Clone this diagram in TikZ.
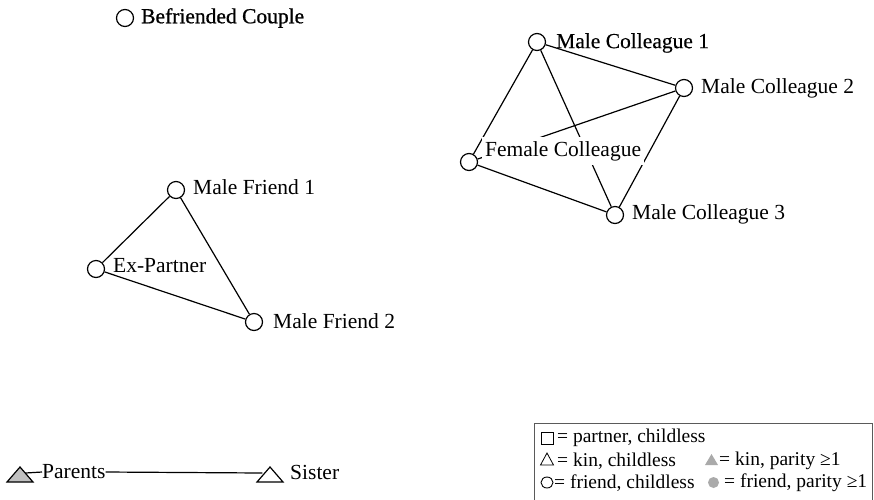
\documentclass[tikz,border=0pt]{standalone}
\usepackage{fontspec}
\setmainfont{Liberation Serif}
\newfontfamily\heavyserif[FakeBold=0.8]{Liberation Serif}
\newfontfamily\semiheavyserif[FakeBold=0.4]{Liberation Serif}
\usetikzlibrary{shapes.geometric}
\definecolor{symgrey}{RGB}{170,170,170}
\definecolor{trigrey}{RGB}{192,192,192}
\definecolor{framegrey}{RGB}{90,90,90}
\tikzset{
  person/.style={circle, draw, line width=1.2pt, fill=white, inner sep=0pt, minimum size=17pt},
  tie/.style={line width=1.2pt},
  lbl/.style={anchor=west, inner sep=0pt, font=\fontsize{21.5}{24}\selectfont},
  keytext/.style={anchor=west, inner sep=0pt, font=\fontsize{19.5}{22}\selectfont},
}
\begin{document}
\begin{tikzpicture}[x=1pt, y=-1pt]
\useasboundingbox (0,0) rectangle (874,499);

% title marker
\node[person] (bc) at (125,18) {};
\node[lbl, font=\fontsize{21.5}{24}\selectfont\heavyserif] (bclab) at (141,18) {Befriended Couple};

% colleague cluster
\node[person] (mc1) at (537,42) {};
\node[person] (mc2) at (684,88) {};
\node[person] (fc)  at (469,162) {};
\node[person] (mc3) at (615,215) {};
\draw[tie] (mc1) -- (mc2);
\draw[tie] (mc1) -- (fc);
\draw[tie] (mc1) -- (mc3);
\draw[tie] (mc2) -- (mc3);
\draw[tie] (mc2) -- (fc);
\draw[tie] (fc) -- (mc3);
\node[lbl, font=\fontsize{21.5}{24}\selectfont\semiheavyserif] (mc1lab) at (556,43) {Male Colleague 1};
\node[lbl] (mc2lab) at (701,88) {Male Colleague 2};
\node[lbl, fill=white, inner xsep=3pt, inner ysep=4pt] (fclab) at (482,151) {Female Colleague};
\node[lbl] (mc3lab) at (632,214) {Male Colleague 3};

% friends triangle
\node[person] (mf1) at (176,190) {};
\node[person] (ex)  at (96,269) {};
\node[person] (mf2) at (254,322) {};
\draw[tie] (mf1) -- (ex);
\draw[tie] (ex) -- (mf2);
\draw[tie] (mf1) -- (mf2);
\node[lbl] (mf1lab) at (193,187) {Male Friend 1};
\node[lbl] (exlab)  at (113,266) {Ex-Partner};
\node[lbl] (mf2lab) at (273,321) {Male Friend 2};

% kin line
\filldraw[fill=trigrey, line width=1.2pt, line join=miter] (7,482) -- (20,467) -- (33,482) -- cycle;
\coordinate (partri) at (25.5,473);
\draw[line width=1.2pt] (257,482) -- (270,467) -- (283,482) -- cycle;
\coordinate (sistri) at (262.3,473);
\node[lbl] (parents) at (42,472) {Parents};
\node[lbl] (sister) at (290,472) {Sister};
\draw[tie] (partri) -- (parents.west);
\draw[tie] (parents.east) -- (sistri);

% key
\draw[framegrey, line width=1pt] (534,423) rectangle (872,520);
\draw[line width=0.8pt] (541,432) rectangle (553,444);
\node[keytext] (k1) at (557,438) {= partner, childless};
\draw[line width=0.8pt] (540.5,465) -- (547,453) -- (553.5,465) -- cycle;
\node[keytext] (k2) at (557,461) {= kin, childless};
\fill[symgrey] (705,465) -- (711.5,454) -- (718,465) -- cycle;
\node[keytext] (k3) at (719,461) {= kin, parity \char"2265 1};
\draw[line width=0.9pt] (547,482.5) ellipse (6pt and 5.5pt);
\node[keytext] (k4) at (554,483) {= friend, childless};
\fill[symgrey] (713.5,482.5) circle (5.5pt);
\node[keytext] (k5) at (724,483) {= friend, parity \char"2265 1};
\end{tikzpicture}
\end{document}
